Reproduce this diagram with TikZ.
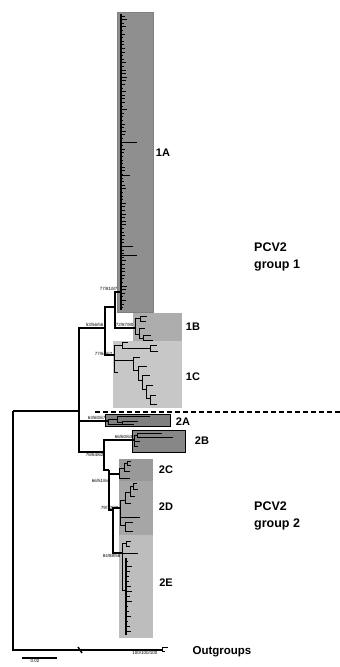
\documentclass[tikz,border=0pt]{standalone}
\usepackage{fontspec}
\setmainfont{Liberation Sans}
\usepackage{tikz}
\usetikzlibrary{positioning}
\definecolor{boxA}{gray}{0.56}
\definecolor{boxB}{gray}{0.68}
\definecolor{boxC}{gray}{0.78}
\definecolor{boxTA}{gray}{0.50}
\definecolor{boxTB}{gray}{0.53}
\definecolor{boxTC}{gray}{0.60}
\definecolor{boxTD}{gray}{0.65}
\definecolor{boxTE}{gray}{0.74}

\begin{document}
\begin{tikzpicture}[x=1pt, y=-1pt,
  br/.style={line width=1.3pt},
  tw/.style={line width=0.9pt},
  clab/.style={font=\bfseries\fontsize{11}{12}\selectfont, inner sep=0pt},
  glab/.style={font=\bfseries\fontsize{12.5}{16.5}\selectfont, align=left, anchor=west, inner sep=0pt},
  sup/.style={font=\fontsize{4.5}{5}\selectfont, inner sep=0.4pt}]
\useasboundingbox (0,0) rectangle (340,667);

% clade boxes
\filldraw[fill=boxA, draw=gray] (117,12) rectangle (153,312);
\fill[boxB] (133,313) rectangle (182,341);
\fill[boxC] (113,341) rectangle (182,408);
\filldraw[fill=boxTA, draw=black, line width=0.7pt] (105,414) rectangle (170,426);
\filldraw[fill=boxTB, draw=black, line width=0.7pt] (132,430) rectangle (185,452);
\fill[boxTC] (119,459) rectangle (153,481);
\fill[boxTD] (119,481) rectangle (153,535);
\fill[boxTE] (119,535) rectangle (153,638);

% backbone
\coordinate (root) at (13,411);
\coordinate (ing) at (79,411);
\coordinate (out) at (162,650);
\coordinate (g1) at (105,328);
\coordinate (ab) at (115,307);
\coordinate (a1) at (121,292);
\coordinate (b1) at (135,328);
\coordinate (c1) at (114,355);
\coordinate (a2) at (108,421);
\coordinate (g2r) at (104,452);
\coordinate (b2) at (134,440);
\coordinate (ce) at (109,470);
\coordinate (c2) at (119,474);
\coordinate (de) at (113,510);
\coordinate (d2) at (120,508);
\coordinate (e2) at (122,553);
% inside the clades
\coordinate (bx1) at (140,318);
\coordinate (bx2) at (139,334);
\coordinate (bx3) at (143,338);
\coordinate (cA) at (122,345);
\coordinate (cA2) at (150,348);
\coordinate (cB) at (133,360);
\coordinate (cB2) at (138,370);
\coordinate (cB3) at (142,380);
\coordinate (cB4) at (146,389);
\coordinate (cB5) at (150,398);
\coordinate (aa) at (117,419);
\coordinate (aa2) at (122,422);
\coordinate (bb) at (137,435);
\coordinate (cc) at (124,468);
\coordinate (cc2) at (127,463);
\coordinate (dA) at (125,500);
\coordinate (dA2) at (130,492);
\coordinate (dA3) at (133,486);
\coordinate (dB) at (125,525);
\coordinate (eA) at (126,543);
\coordinate (eS) at (126,590);
\coordinate (a1top) at (121,14);
\coordinate (a1bot) at (121,310);
\coordinate (eStop) at (126,558);
\coordinate (eSbot) at (126,635);

\foreach \p/\c in {root/ing, root/out, ing/g1, ing/a2, ing/g2r, g1/ab, g1/c1,
    ab/a1, ab/b1, g2r/b2, g2r/ce, ce/c2, ce/de, de/d2, de/e2}
  \draw[br] (\p) |- (\c);
\foreach \p/\c in {b1/bx1, b1/bx2, bx2/bx3, c1/cA, c1/cB, cA/cA2, cB/cB2, cB2/cB3,
    cB3/cB4, cB4/cB5, a2/aa, aa/aa2, b2/bb, c2/cc, cc/cc2, d2/dA, d2/dB, dA/dA2,
    dA2/dA3, e2/eA, e2/eS}
  \draw[tw] (\p) |- (\c);
\draw[br] (a1top) -- (a1bot);
\draw[br] (eStop) -- (eSbot);

% leaves
\foreach \p/\dx/\dy in {bx1/7/-2, bx1/6/3, bx2/6/-6, bx3/8/-3, bx3/10/2,
    c1/4/17, cA/6/-3, cA2/7/-3, cA2/8/3, cB/7/-3, cB2/9/-4, cB3/8/-5, cB4/7/-4,
    cB5/6/-3, cB5/7/6, a2/22/3, aa/33/-3, aa2/16/-1, aa2/12/2,
    b2/6/1, b2/4/6, bb/25/-2, bb/36/2, c2/11/4, cc/6/3, cc2/4/-2, cc2/4/2,
    d2/20/9, dA/6/3, dA2/5/4, dA3/4/-3, dA3/5/3, dB/8/-3, dB/8/6,
    e2/16/0, eA/5/-2, eA/4/3, out/6/-3, out/3/1}
  \draw[tw] (\p) |- ++(\dx,\dy);
\pgfmathsetseed{11}
\foreach \y in {16,19.6,...,309} {
  \pgfmathsetmacro\len{1.5+4.5*rnd}
  \draw[tw] (121,\y) -- ++(\len,0);
}
\foreach \y/\len in {142/16, 246/12, 255/16, 175/9}
  \draw[tw] (121,\y) -- ++(\len,0);
\foreach \y in {561,566,...,634} {
  \pgfmathsetmacro\len{2+5*rnd}
  \draw[tw] (126,\y) -- ++(\len,0);
}

% broken outgroup branch
\coordinate (brk1) at (78,647);
\coordinate (brk2) at (82,653);
\draw[line width=1.5pt] (brk1) -- (brk2);

% group separator
\coordinate (dl) at (95,412);
\coordinate (dr) at (340,412);
\draw[line width=2.4pt, dash pattern=on 5pt off 3pt] (dl) -- (dr);

% support values
\node[sup, anchor=east] (s1) at (118,289) {77/81/87};
\node[sup, anchor=south east] (s2) at (104,327) {53/56/56};
\node[sup, anchor=south east] (s3) at (134,327) {72/87/80};
\node[sup, anchor=east] (s4) at (113,354) {77/64/62};
\node[sup, anchor=south east] (s5) at (106,420) {63/60/67};
\node[sup, anchor=south east] (s6) at (133,439) {66/60/63};
\node[sup, anchor=north east] (s7) at (104,453) {76/64/62};
\node[sup, anchor=east] (s8) at (110,481) {66/51/64};
\node[sup, anchor=east] (s9) at (119,508) {79/70/70};
\node[sup, anchor=east] (s10) at (121,556) {84/88/56};
\node[sup, anchor=north east] (s11) at (158,651) {100/100/100};

% clade labels
\node[clab] (l1A) at (163,153) {1A};
\node[clab] (l1B) at (193,327) {1B};
\node[clab] (l1C) at (193,377) {1C};
\node[clab] (l2A) at (183,422) {2A};
\node[clab] (l2B) at (202,441) {2B};
\node[clab] (l2C) at (166,470) {2C};
\node[clab] (l2D) at (166,507) {2D};
\node[clab] (l2E) at (166,583) {2E};
\node[glab] (grp1) at (254,257) {PCV2\\group 1};
\node[glab] (grp2) at (254,516) {PCV2\\group 2};
\node[clab, font=\bfseries\fontsize{11.5}{13}\selectfont] (outg) at (222,652) {Outgroups};

% scale bar
\coordinate (sb1) at (22,658);
\coordinate (sb2) at (57,658);
\draw[line width=1.4pt] (sb1) -- (sb2);
\node[sup, below=0.5pt of sb1, xshift=13pt] (sbl) {0.02};
\end{tikzpicture}
\end{document}
